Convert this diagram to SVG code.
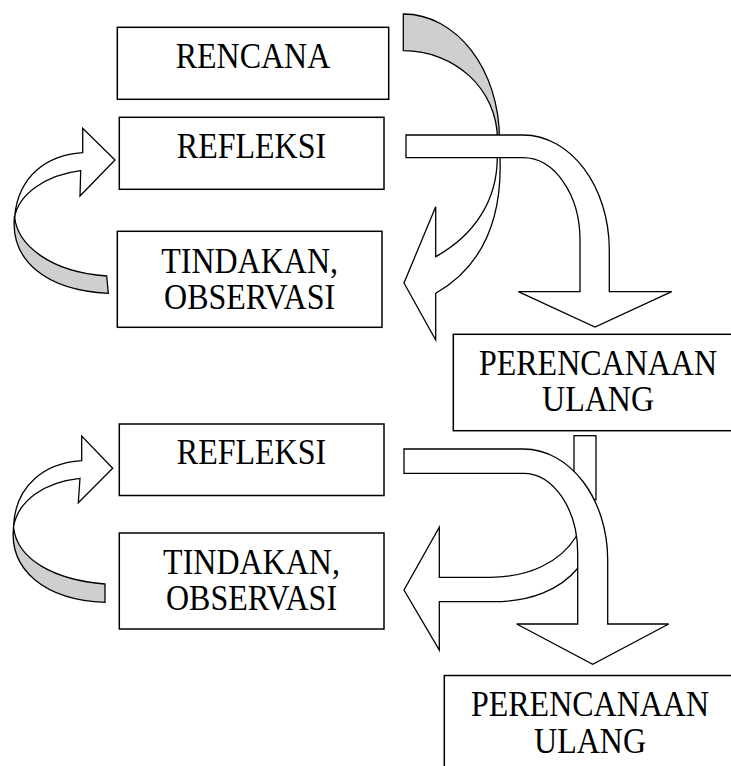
<svg xmlns="http://www.w3.org/2000/svg" width="731" height="766" viewBox="0 0 731 766">
<style>
.box{fill:#fff;stroke:#000;stroke-width:1.5}
.lbl{font-family:"Liberation Serif","Times New Roman",serif;font-size:32px;fill:#000;text-anchor:middle}
.w{fill:#fff;stroke:#000;stroke-width:1.3;stroke-linejoin:miter}
.g{fill:#cfcfcf;stroke:#000;stroke-width:1.3}
</style>
<rect width="731" height="766" fill="#fff"/>
<g id="connectors">
  <!-- top: RENCANA -> TINDAKAN curved arrow -->
  <path class="g" d="M403.3,14 C456.4,14 499.5,69.1 499.5,140 L497.5,140 C497.5,89.4 455.3,50.7 403.3,50.7 Z"/>
  <path class="w" d="M497.3,150 L497.3,158 C497,200 475,235 435.7,256.7 L435.7,206.7 L404,283 L435.7,340 L435.7,293.3 C485,265 502,215 500,158 L500,150 Z"/>
  <!-- top: REFLEKSI -> PERENCANAAN bent arrow -->
  <path class="w" d="M406,135 L523,135 C570.6,135 609.3,186.5 609.3,250 L609.3,291.7 L671.7,291.7 L595,327 L518.3,291.7 L580,291.7 L580,240 C580,194.6 554.5,157.7 523,157.7 L406,157.7 Z"/>
  <!-- top-left: TINDAKAN -> REFLEKSI curved arrow -->
  <path class="g" d="M14.5,216 C17,245 50,272 106.7,276 L108.3,293.3 C45,290 10,260 14.5,216 Z"/>
  <path class="w" d="M82.7,152.7 C48,155 18,175 14.5,218 C18,195 45,175 80.7,170.7 L80,196 L115,160 L82.7,128.3 Z"/>
  <!-- stub under PERENCANAAN ULANG -->
  <rect class="w" x="574" y="435.7" width="22" height="64"/>
  <!-- bottom-left: TINDAKAN -> REFLEKSI curved arrow -->
  <path class="g" d="M13.5,527 C17,560 55,580 105,584 L105,602.3 C45,600 9,570 13.5,527 Z"/>
  <path class="w" d="M81.7,460.7 C45,463 15,485 13.5,527 C18,500 45,482 80,478.3 L78.3,502.7 L112.7,468.3 L81.7,436 Z"/>
  <!-- bottom: curved left arrow to TINDAKAN -->
  <path class="w" d="M439.3,577.3 L490,577.3 C528,577.3 560,563 576.5,536 L590,536 L590,568 L578,568 C560,590 530,601.7 493.3,601.7 L439.3,601.7 L439.3,650 L404,590 L439.3,527.3 Z"/>
  <!-- bottom: REFLEKSI -> PERENCANAAN bent arrow -->
  <path class="w" d="M404,449 L523.3,449 C569.9,449 607.7,498.7 607.7,560 L607.7,624 L668.7,624 L592.7,664.3 L516.7,624 L577.7,624 L577.7,553 C577.7,509 553.3,473.3 523.3,473.3 L404,473.3 Z"/>
</g>
<g id="rencana">
  <rect class="box" x="117.3" y="27.3" width="271.4" height="72"/>
  <text class="lbl" transform="translate(253,68.3) scale(1,1.1)">RENCANA</text>
</g>
<g id="refleksi1">
  <rect class="box" x="119.3" y="117.3" width="264.7" height="72"/>
  <text class="lbl" transform="translate(251.5,157.7) scale(1,1.1)">REFLEKSI</text>
</g>
<g id="tindakan1">
  <rect class="box" x="117.3" y="231.3" width="264.7" height="96"/>
  <text class="lbl" transform="translate(249.6,272.7) scale(1,1.1)">TINDAKAN,</text>
  <text class="lbl" transform="translate(249.6,308.7) scale(1,1.1)">OBSERVASI</text>
</g>
<g id="perencanaan1">
  <rect class="box" x="453.3" y="334.3" width="290" height="96.4"/>
  <text class="lbl" transform="translate(598,375.3) scale(1,1.1)">PERENCANAAN</text>
  <text class="lbl" transform="translate(598,411) scale(1,1.1)">ULANG</text>
</g>
<g id="refleksi2">
  <rect class="box" x="119.3" y="424" width="264.7" height="71.5"/>
  <text class="lbl" transform="translate(251.5,464) scale(1,1.1)">REFLEKSI</text>
</g>
<g id="tindakan2">
  <rect class="box" x="119.3" y="533" width="264.7" height="96"/>
  <text class="lbl" transform="translate(251.5,573.5) scale(1,1.1)">TINDAKAN,</text>
  <text class="lbl" transform="translate(251.5,609.5) scale(1,1.1)">OBSERVASI</text>
</g>
<g id="perencanaan2">
  <rect class="box" x="444.3" y="675.5" width="290" height="100"/>
  <text class="lbl" transform="translate(590,715.5) scale(1,1.1)">PERENCANAAN</text>
  <text class="lbl" transform="translate(590,752.8) scale(1,1.1)">ULANG</text>
</g>
</svg>
